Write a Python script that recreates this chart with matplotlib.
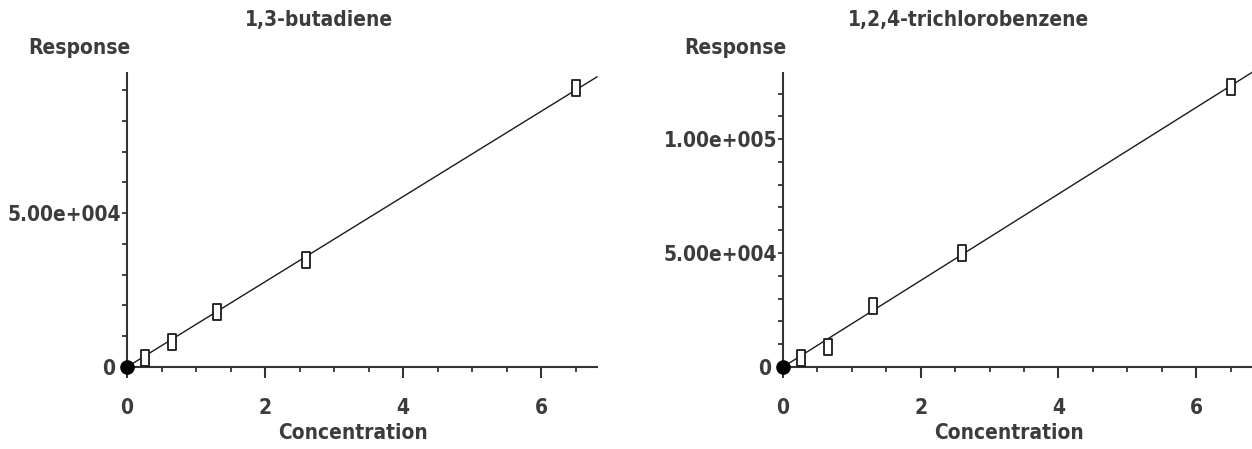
import numpy as np
import matplotlib
matplotlib.use("Agg")
import matplotlib.pyplot as plt
import matplotlib.transforms as mtransforms
from matplotlib.ticker import MultipleLocator
from matplotlib.path import Path

# ---- data ----
concentration = [0.26, 0.65, 1.30, 2.60, 6.50]
butadiene_resp = [2900, 8100, 17900, 34700, 90600]
tcb_resp = [3960, 8800, 26800, 50200, 123000]
titles = ["1,3-butadiene", "1,2,4-trichlorobenzene"]
ytick_vals = [[0, 50000], [0, 50000, 100000]]
ytick_labels = [["0", "5.00e+004"], ["0", "5.00e+004", "1.00e+005"]]
xtick_vals = [0, 2, 4, 6]
xtick_labels = ["0", "2", "4", "6"]
ymax = [95500, 129000]
xmax = 6.81

W, H = 1252, 449
TXT = '#3c3c3c'
plt.rcParams['font.family'] = ['DejaVu Sans']
plt.rcParams['font.stretch'] = 'condensed'
FS = 15

fig = plt.figure(figsize=(W / 100, H / 100), dpi=100)

rect_marker = Path([(-1, -2), (1, -2), (1, 2), (-1, 2), (-1, -2)],
                   [Path.MOVETO, Path.LINETO, Path.LINETO, Path.LINETO, Path.CLOSEPOLY])

def px_ax(x0, x1, ytop, ybot):
    return [x0 / W, 1 - ybot / H, (x1 - x0) / W, (ybot - ytop) / H]

axes_px = [(127, 597), (783, 1252)]
title_cx = [319, 969]
series = [butadiene_resp, tcb_resp]

for i in range(2):
    x0, x1 = axes_px[i]
    ax = fig.add_axes(px_ax(x0, x1, 73, 367))
    resp = np.array(series[i], dtype=float)
    conc = np.array(concentration, dtype=float)
    slope = np.sum(conc * resp) / np.sum(conc * conc)
    xs = np.array([0, xmax])
    ax.plot(xs, slope * xs, color='#1a1a1a', lw=1.0, zorder=2, clip_on=False)
    ax.plot(conc, resp, linestyle='none', marker=rect_marker, markersize=11,
            markerfacecolor='white', markeredgecolor='#1a1a1a', markeredgewidth=1.3,
            zorder=3, clip_on=False)
    ax.plot([0], [0], linestyle='none', marker='o', markersize=9.5, color='black',
            zorder=4, clip_on=False)
    ax.set_xlim(0, xmax)
    ax.set_ylim(0, ymax[i])
    for s in ['top', 'right']:
        ax.spines[s].set_visible(False)
    for s in ['left', 'bottom']:
        ax.spines[s].set_color('#333333')
        ax.spines[s].set_linewidth(1.5)
    ax.set_xticks(xtick_vals)
    ax.set_xticklabels(xtick_labels)
    ax.xaxis.set_minor_locator(MultipleLocator(0.5))
    ax.set_yticks(ytick_vals[i])
    ax.set_yticklabels(ytick_labels[i])
    ax.yaxis.set_minor_locator(MultipleLocator(10000))
    ax.tick_params(axis='x', which='major', length=8, width=1.5, color='#333333',
                   pad=14, labelsize=FS, labelcolor=TXT)
    ax.tick_params(axis='x', which='minor', length=3.6, width=1.3, color='#333333')
    ax.tick_params(axis='y', which='both', length=3.6, width=1.3, color='#333333',
                   pad=0.5, labelsize=FS, labelcolor=TXT)
    for lab in ax.get_xticklabels() + ax.get_yticklabels():
        lab.set_fontweight('bold')
    zero_lab = ax.get_yticklabels()[0]
    zero_lab.set_transform(zero_lab.get_transform() +
                           mtransforms.ScaledTranslation(-0.06, 0, fig.dpi_scale_trans))
    fig.text(title_cx[i] / W, 1 - 20 / H, titles[i], ha='center', va='center',
             fontsize=FS, fontweight='bold', color=TXT)
    fig.text((x0 + 3) / W, 1 - 48 / H, "Response", ha='right', va='center',
             fontsize=FS, fontweight='bold', color=TXT)
    fig.text((x0 + 226) / W, 1 - 433 / H, "Concentration", ha='center', va='center',
             fontsize=FS, fontweight='bold', color=TXT)

fig.savefig("out.png", dpi=100)
